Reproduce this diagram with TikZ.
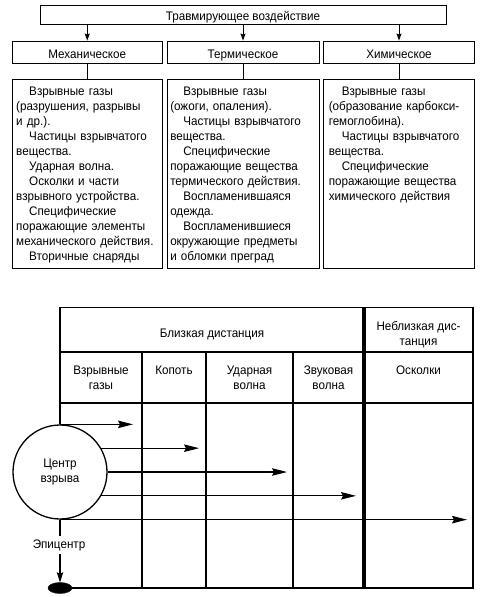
\documentclass[tikz,border=0pt]{standalone}
\usepackage{fontspec}
\setmainfont{Liberation Sans}[FakeStretch=0.94]
\usetikzlibrary{arrows.meta,shapes.geometric}
\begin{document}
\begin{tikzpicture}[x=1pt,y=-1pt,
  every node/.style={font=\fontsize{12.4}{15}\selectfont, inner sep=0pt},
  hbox/.style={draw, line width=0.9pt, text height=12.4pt, text depth=0pt, minimum height=19pt},
  cbox/.style={draw, line width=0.9pt, minimum height=189pt},
  ctext/.style={anchor=north west, align=left, text width=145pt},
  conn/.style={line width=0.9pt},
  smallarr/.style={line width=0.9pt, -{Stealth[length=7pt,width=5pt,inset=1pt]}},
  tline/.style={line width=1.3pt},
  bigarr/.style={line width=1.1pt, -{Stealth[length=15pt,width=7.5pt,inset=2pt]}},
  ttext/.style={align=center}
]
\useasboundingbox (0,0) rectangle (481,597);
% ---------- top part ----------
\node[hbox, minimum width=406pt] (top) at (243,14.5) {Травмирующее воздействие};
\node[hbox, minimum width=150.5pt, minimum height=22pt] (mech) at (87.25,52) {Механическое};
\node[hbox, minimum width=152pt, minimum height=22pt] (therm) at (243,52) {Термическое};
\node[hbox, minimum width=151pt, minimum height=22pt] (chem) at (399,52) {Химическое};
\node[cbox, minimum width=150.5pt] (mechc) at (87.25,173.5) {};
\node[cbox, minimum width=152pt] (thermc) at (243,173.5) {};
\node[cbox, minimum width=151pt] (chemc) at (399,173.5) {};
\draw[smallarr] (top.south -| mech.north) -- (mech.north);
\draw[smallarr] (top.south -| therm.north) -- (therm.north);
\draw[smallarr] (top.south -| chem.north) -- (chem.north);
\draw[conn] (mech.south) -- (mechc.north);
\draw[conn] (therm.south) -- (thermc.north);
\draw[conn] (chem.south) -- (chemc.north);
\node[ctext] (mecht) at ([xshift=4.5pt,yshift=-5.8pt]mechc.north west) {\strut\hspace*{13pt}Взрывные газы\\
(разрушения, разрывы\\
и др.).\\
\hspace*{13pt}Частицы взрывчатого\\
вещества.\\
\hspace*{13pt}Ударная волна.\\
\hspace*{13pt}Осколки и части\\
взрывного устройства.\\
\hspace*{13pt}Специфические\\
поражающие элементы\\
механического действия.\\
\hspace*{13pt}Вторичные снаряды};
\node[ctext] (thermt) at ([xshift=3.5pt,yshift=-5.8pt]thermc.north west) {\strut\hspace*{13pt}Взрывные газы\\
(ожоги, опаления).\\
\hspace*{13pt}Частицы взрывчатого\\
вещества.\\
\hspace*{13pt}Специфические\\
поражающие вещества\\
термического действия.\\
\hspace*{13pt}Воспламенившаяся\\
одежда.\\
\hspace*{13pt}Воспламенившиеся\\
окружающие предметы\\
и обломки преград};
\node[ctext] (chemt) at ([xshift=5.5pt,yshift=-5.8pt]chemc.north west) {\strut\hspace*{13pt}Взрывные газы\\
(образование карбокси-\\
гемоглобина).\\
\hspace*{13pt}Частицы взрывчатого\\
вещества.\\
\hspace*{13pt}Специфические\\
поражающие вещества\\
химического действия};
% ---------- bottom part ----------
\coordinate (tl) at (60,307.7);
\coordinate (tr) at (473,307.7);
\coordinate (br) at (473,588);
\coordinate (r1l) at (60,352);
\coordinate (r1r) at (473,352);
\coordinate (r2l) at (60,403);
\coordinate (r2r) at (473,403);
\coordinate (v1) at (142,352);
\coordinate (v2) at (206,352);
\coordinate (v3) at (293,352);
\coordinate (vt) at (364,307.7);
\node[draw, circle, line width=1.3pt, minimum size=94pt, align=center] (ctr) at (60,472) {Центр\\взрыва};
\node[draw, fill=black, ellipse, minimum width=24pt, minimum height=11pt] (epi) at (60,588) {};
\draw[tline] (ctr.north) -- (tl) -- (tr) -- (br) -- (epi.east);
\draw[tline] (r1l) -- (r1r);
\draw[tline] (r2l) -- (r2r);
\draw[tline] (v1) -- (v1 |- br);
\draw[tline] (v2) -- (v2 |- br);
\draw[tline] (v3) -- (v3 |- br);
\draw[line width=3.2pt] (vt) -- (vt |- br);
\coordinate (e1) at (133,0);
\coordinate (e2) at (199,0);
\coordinate (e3) at (287,0);
\coordinate (e4) at (356,0);
\coordinate (e5) at (467,0);
\draw[bigarr] (ctr.north) -- (ctr.north -| e1);
\draw[bigarr] (ctr.30) -- (ctr.30 -| e2);
\draw[bigarr] (ctr.east) -- (ctr.east -| e3);
\draw[bigarr] (ctr.-30) -- (ctr.-30 -| e4);
\draw[bigarr] (ctr.south) -- (ctr.south -| e5);
\draw[line width=1.1pt, -{Stealth[length=10pt,width=6.5pt,inset=1.5pt]}] (ctr.south) -- (epi.north);
\node[fill=white, inner ysep=3pt, inner xsep=1pt] (epil) at (59,545) {Эпицентр};
% table texts
\node[anchor=base] (close) at (212,337.7) {Близкая дистанция};
\node[ttext, anchor=north, font=\fontsize{12.4}{14.5}\selectfont] (far) at (418.5,320.5) {\strut Неблизкая дис-\\танция};
\node[ttext, anchor=north] (c1) at (101,363.5) {\strut Взрывные\\газы};
\node[ttext, anchor=north] (c2) at (174,363.5) {\strut Копоть};
\node[ttext, anchor=north] (c3) at (249.5,363.5) {\strut Ударная\\волна};
\node[ttext, anchor=north] (c4) at (328.5,363.5) {\strut Звуковая\\волна};
\node[ttext, anchor=north] (c5) at (418.5,363.5) {\strut Осколки};
\end{tikzpicture}
\end{document}
